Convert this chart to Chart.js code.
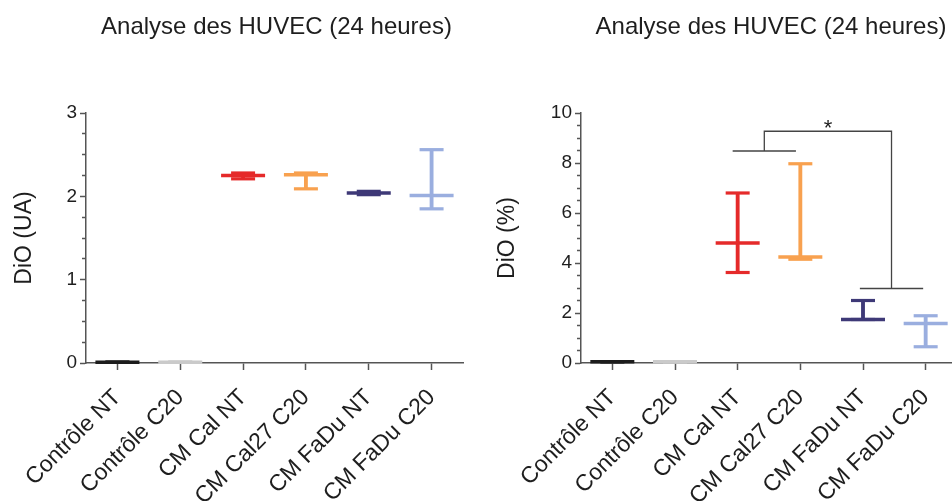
<!DOCTYPE html>
<html>
<head>
<meta charset="utf-8">
<script src="https://cdn.jsdelivr.net/npm/chart.js@4"></script>
<style>
  html, body { margin: 0; padding: 0; background: #fff; overflow: hidden; }
  #wrap { position: relative; width: 952px; height: 501px; overflow: hidden; }
  .panel { position: absolute; top: 0; height: 501px; }
  #left { left: 0; width: 476px; }
  #right { left: 476px; width: 490px; }
</style>
</head>
<body>
<div id="wrap">
  <div class="panel" id="left"><canvas id="chartUA" width="476" height="501"></canvas></div>
  <div class="panel" id="right"><canvas id="chartPct" width="490" height="501"></canvas></div>
</div>
<script>
const categories = ['Contrôle NT', 'Contrôle C20', 'CM Cal NT', 'CM Cal27 C20', 'CM FaDu NT', 'CM FaDu C20'];
const groupColors = ['#1c1c1c', '#cacaca', '#e52a2a', '#f8a14f', '#3e3977', '#9aaedf'];

// DiO (UA) - median, min, max
const uaMedian = [0.01, 0.01, 2.25, 2.26, 2.04, 2.01];
const uaMin    = [0.01, 0.01, 2.21, 2.09, 2.02, 1.85];
const uaMax    = [0.01, 0.01, 2.28, 2.28, 2.06, 2.56];
const uaTicks  = [0, 1, 2, 3];

// DiO (%) - median, min, max
const pctMedian = [0.05, 0.05, 4.80, 4.24, 1.74, 1.58];
const pctMin    = [0.05, 0.05, 3.62, 4.15, 1.74, 0.65];
const pctMax    = [0.05, 0.05, 6.80, 7.97, 2.50, 1.89];
const pctTicks  = [0, 2, 4, 6, 8, 10];

// significance bracket (category index / value units)
const sigLeft  = { from: 1.92, to: 2.93, y: 8.48 };
const sigRight = { from: 3.95, to: 4.96, y: 2.98 };
const sigTop = 9.27;

const titleText = 'Analyse des HUVEC (24 heures)';
const textColor = '#1e1e1e';
const axisColor = '#555555';
const fontFamily = '"Liberation Sans", Arial, sans-serif';

Chart.defaults.font.family = fontFamily;
Chart.defaults.color = textColor;

const panelTitle = {
  id: 'panelTitle',
  afterDraw(chart, args, opts) {
    const { ctx, chartArea } = chart;
    ctx.save();
    ctx.font = '24px ' + fontFamily;
    ctx.fillStyle = textColor;
    ctx.textAlign = 'center';
    ctx.textBaseline = 'alphabetic';
    ctx.fillText(opts.text, (chartArea.left + chartArea.right) / 2 + 2, 34);
    ctx.restore();
  }
};

const sigBracket = {
  id: 'sigBracket',
  afterDatasetsDraw(chart, args, opts) {
    if (!opts.show) return;
    const { ctx } = chart;
    const xs = chart.scales.x, ys = chart.scales.y;
    const px = v => xs.getPixelForValue(v);
    const py = v => ys.getPixelForValue(v);
    const ax = (sigLeft.from + sigLeft.to) / 2;
    const bx = (sigRight.from + sigRight.to) / 2;
    ctx.save();
    ctx.strokeStyle = '#444';
    ctx.lineWidth = 1.3;
    ctx.beginPath();
    ctx.moveTo(px(sigLeft.from), py(sigLeft.y));
    ctx.lineTo(px(sigLeft.to), py(sigLeft.y));
    ctx.moveTo(px(sigRight.from), py(sigRight.y));
    ctx.lineTo(px(sigRight.to), py(sigRight.y));
    ctx.moveTo(px(ax), py(sigLeft.y));
    ctx.lineTo(px(ax), py(sigTop));
    ctx.lineTo(px(bx), py(sigTop));
    ctx.lineTo(px(bx), py(sigRight.y));
    ctx.stroke();
    ctx.font = '22px ' + fontFamily;
    ctx.fillStyle = textColor;
    ctx.textAlign = 'center';
    ctx.textBaseline = 'alphabetic';
    ctx.fillText('*', px((ax + bx) / 2), py(sigTop) + 4);
    ctx.restore();
  }
};

function capSet(data, radius, width) {
  return {
    type: 'line', data: data, showLine: false, clip: false,
    pointStyle: 'line', pointRadius: radius, pointHoverRadius: radius,
    pointBorderWidth: width, pointHoverBorderWidth: width,
    pointBorderColor: groupColors, pointBackgroundColor: groupColors
  };
}

function makeChart(id, cfg) {
  new Chart(document.getElementById(id), {
    type: 'bar',
    data: {
      labels: categories,
      datasets: [
        capSet(cfg.median, 22, 3.5),
        capSet(cfg.max, 12, 3.2),
        capSet(cfg.min, 12, 3.2),
        {
          type: 'bar',
          data: cfg.min.map((v, i) => [v, cfg.max[i]]),
          backgroundColor: groupColors,
          borderWidth: 0,
          barThickness: 3.2
        }
      ]
    },
    options: {
      responsive: false,
      animation: false,
      events: [],
      layout: { autoPadding: false, padding: { top: 113, right: cfg.padRight, left: 0, bottom: 0 } },
      plugins: {
        legend: { display: false },
        tooltip: { enabled: false },
        panelTitle: { text: titleText },
        sigBracket: { show: cfg.bracket }
      },
      scales: {
        x: {
          offset: true,
          afterFit: s => { s.height = 138; s.paddingLeft = 0; s.paddingRight = 0; },
          border: { color: axisColor, width: 1.5 },
          grid: { offset: false, drawOnChartArea: false, tickLength: 7, tickColor: axisColor, tickWidth: 1.5 },
          ticks: { autoSkip: false, maxRotation: 45, minRotation: 45, padding: 14, color: textColor, font: { size: 23 } }
        },
        y: {
          min: 0, max: cfg.max_,
          afterFit: s => { s.width = cfg.axisWidth; },
          border: { color: axisColor, width: 1.5 },
          grid: {
            drawOnChartArea: false, tickLength: 6, tickColor: axisColor, tickWidth: 1.5,
            tickBorderDash: c => cfg.ticks.includes(c.tick.value) ? [] : [0, 2, 4, 100]
          },
          ticks: {
            stepSize: cfg.step, autoSkip: false, padding: 3, color: textColor, font: { size: 19 },
            callback: v => cfg.ticks.includes(v) ? String(v) : ''
          },
          title: { display: true, text: cfg.yTitle, color: textColor, font: { size: 23 }, padding: { top: cfg.titlePad, bottom: 0 } }
        }
      }
    },
    plugins: [panelTitle, sigBracket]
  });
}

makeChart('chartUA', {
  median: uaMedian, min: uaMin, max: uaMax, ticks: uaTicks,
  max_: 3, step: 0.25, yTitle: 'DiO (UA)', axisWidth: 86, padRight: 13, titlePad: 11, bracket: false
});

makeChart('chartPct', {
  median: pctMedian, min: pctMin, max: pctMax, ticks: pctTicks,
  max_: 10, step: 0.5, yTitle: 'DiO (%)', axisWidth: 105, padRight: 9, titlePad: 18, bracket: true
});
</script>
</body>
</html>
